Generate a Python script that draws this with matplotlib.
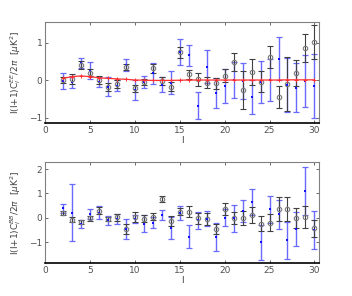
import matplotlib
matplotlib.use('Agg')
import numpy as np
import matplotlib.pyplot as plt

# ── Data ──────────────────────────────────────────────────────
ell = np.arange(2, 31)

# EE panel
ee_gray = [0.0, 0.02, 0.40, 0.20, 0.0, -0.18, -0.10, 0.35, -0.22, -0.06,
           0.32, -0.02, -0.18, 0.74, 0.15, 0.02, -0.07, -0.09, 0.12, 0.48,
           -0.27, 0.22, -0.05, 0.61, -0.45, -0.10, 0.18, 0.85, 1.02]
ee_gray_err = [0.07, 0.13, 0.10, 0.10, 0.10, 0.10, 0.10, 0.08, 0.10, 0.08,
               0.12, 0.10, 0.12, 0.15, 0.12, 0.17, 0.15, 0.15, 0.18, 0.23,
               0.50, 0.35, 0.28, 0.30, 0.30, 0.72, 0.35, 0.37, 0.45]
ee_blue = [-0.02, -0.05, 0.45, 0.25, -0.05, -0.18, -0.15, 0.40, -0.27, -0.05,
           0.18, -0.12, -0.07, 0.75, 0.66, -0.68, 0.36, -0.34, -0.16, 0.0,
           -0.02, -0.45, -0.05, 0.0, 0.57, -0.12, -0.20, -0.02, -0.16]
ee_blue_err = [0.22, 0.15, 0.13, 0.22, 0.13, 0.25, 0.15, 0.17, 0.27, 0.17,
               0.28, 0.20, 0.30, 0.35, 0.28, 0.37, 0.45, 0.40, 0.45, 0.47,
               0.48, 0.45, 0.55, 0.55, 0.58, 0.72, 0.65, 0.70, 0.85]
ee_theory = [0.045, 0.09, 0.11, 0.09, 0.06, 0.045, 0.03, 0.02, 0.0, -0.005,
             -0.01, -0.01, -0.01, -0.005, 0.0, 0.0, 0.0, 0.0, 0.0, 0.0,
             0.0, 0.0, 0.0, 0.0, 0.0, 0.005, 0.005, 0.005, 0.005]

# BB panel
bb_gray = [0.20, -0.07, -0.17, -0.02, 0.30, -0.05, 0.02, -0.45, 0.05, -0.03,
           0.05, 0.77, -0.12, 0.26, 0.26, -0.02, -0.05, -0.45, 0.36, -0.02,
           0.0, 0.12, -0.24, -0.20, 0.36, 0.36, 0.0, 0.02, -0.43]
bb_gray_err = [0.08, 0.10, 0.08, 0.10, 0.13, 0.08, 0.15, 0.20, 0.20, 0.15,
               0.15, 0.13, 0.20, 0.15, 0.22, 0.22, 0.25, 0.20, 0.25, 0.25,
               0.30, 0.33, 0.30, 0.35, 0.50, 0.50, 0.40, 0.45, 0.35]
bb_blue = [0.40, 0.22, -0.25, 0.15, 0.22, -0.10, -0.05, -0.45, -0.05, -0.24,
           -0.20, 0.12, -0.42, 0.20, -0.78, -0.10, -0.03, -0.78, 0.01, -0.02,
           0.30, 0.65, -1.00, 0.35, 0.15, -0.92, -0.47, 1.10, -0.50]
bb_blue_err = [0.18, 1.17, 0.15, 0.20, 0.25, 0.18, 0.20, 0.42, 0.15, 0.34,
               0.22, 0.20, 0.45, 0.30, 0.47, 0.35, 0.30, 0.58, 0.35, 0.55,
               0.45, 0.52, 0.72, 0.55, 0.60, 0.75, 0.70, 1.00, 0.78]

# ── Style ─────────────────────────────────────────────────────
GRAY_PT = '#7a7a7a'
GRAY_ERR = '#404040'
BLUE_PT = '#1010ff'
BLUE_ERR = '#6a6aff'
RED = '#ff3030'

plt.rcParams.update({'font.family': 'DejaVu Sans', 'font.size': 6.5})

fig = plt.figure(figsize=(3.52, 2.96), dpi=100, facecolor='white')
ax1 = fig.add_axes([0.128, 0.584, 0.778, 0.342])
ax2 = fig.add_axes([0.128, 0.1115, 0.778, 0.342])


def panel(ax, gray, gerr, blue, berr, ylim, yticks, lab):
    ax.errorbar(ell, blue, yerr=berr, fmt='o', color=BLUE_ERR, ms=0,
                elinewidth=1.0, capsize=2.5, capthick=0.9, zorder=2)
    ax.plot(ell, blue, 's', color=BLUE_PT, ms=1.8, mew=0, zorder=4)
    ax.errorbar(ell, gray, yerr=gerr, fmt='none', ecolor=GRAY_ERR,
                elinewidth=0.8, capsize=2.5, capthick=0.8, zorder=3)
    ax.plot(ell, gray, 'o', mfc='none', mec=GRAY_PT, ms=3.2, mew=0.8, zorder=5)
    ax.set_xlim(0, 30.5)
    ax.set_ylim(*ylim)
    ax.set_xticks([0, 5, 10, 15, 20, 25, 30])
    ax.set_yticks(yticks)
    ax.tick_params(direction='in', length=2.5, width=0.6, top=True, right=True,
                   colors='#505050', labelcolor='#505050', labelsize=6.5, pad=2)
    for s in ['top', 'right', 'left']:
        ax.spines[s].set_color('#808080')
        ax.spines[s].set_linewidth(0.8)
    ax.spines['bottom'].set_color('black')
    ax.spines['bottom'].set_linewidth(1.2)
    ax.set_ylabel(lab, fontsize=6.5, color='#404040', labelpad=4)
    ax.set_xlabel('l', fontsize=6.5, color='#404040', labelpad=1)


panel(ax1, ee_gray, ee_gray_err, ee_blue, ee_blue_err, (-1.15, 1.55), [-1, 0, 1],
      r'l(l+1)C$_l^{EE}$/2$\pi$  [$\mu$K$^2$]')
ax1.plot(ell, ee_theory, '-', color=RED, lw=0.9, zorder=6)
ax1.plot(ell, ee_theory, '+', color=RED, ms=2.5, mew=0.7, zorder=6)

panel(ax2, bb_gray, bb_gray_err, bb_blue, bb_blue_err, (-1.85, 2.3), [-1, 0, 1, 2],
      r'l(l+1)C$_l^{BB}$/2$\pi$  [$\mu$K$^2$]')

fig.savefig('out.png', dpi=100, facecolor='white')
